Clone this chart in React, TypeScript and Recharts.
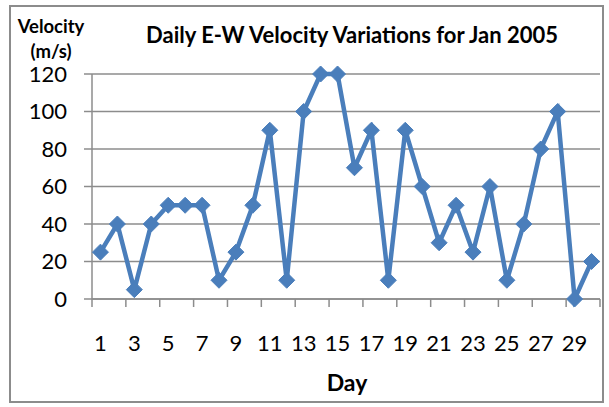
import React from "react";
import { LineChart, Line, XAxis, YAxis, CartesianGrid } from "recharts";

const days: number[] = [1,2,3,4,5,6,7,8,9,10,11,12,13,14,15,16,17,18,19,20,21,22,23,24,25,26,27,28,29,30];
const velocity: number[] = [25,40,5,40,50,50,50,10,25,50,90,10,100,120,120,70,90,10,90,60,30,50,25,60,10,40,80,100,0,20];
const yTicks: number[] = [0,20,40,60,80,100,120];

const data = days.map((d, i) => ({ day: d, v: velocity[i] }));

const FONT = "Lato, 'Open Sans', sans-serif";
const W = 609;
const H = 407;
const PLOT_LEFT = 92;
const PLOT_RIGHT = 600;
const PLOT_TOP = 74;
const PLOT_BOTTOM = 299;
const BAND = (PLOT_RIGHT - PLOT_LEFT) / days.length;
const GRID = "#8c8c8c";
const BLUE = "#4A7EBB";

const Diamond = (props: any) => {
  const { cx, cy } = props;
  if (cx == null || cy == null) return null;
  const r = 8;
  return (
    <polygon
      points={`${cx},${cy - r} ${cx + r},${cy} ${cx},${cy + r} ${cx - r},${cy}`}
      fill={BLUE}
      stroke={BLUE}
      strokeWidth={1}
    />
  );
};

const XTick = (props: any) => {
  const { x, payload } = props;
  const bx = x - BAND / 2;
  return (
    <g>
      <line x1={bx} y1={PLOT_BOTTOM} x2={bx} y2={PLOT_BOTTOM + 8} stroke={GRID} strokeWidth={1.5} />
      <text x={x} y={PLOT_BOTTOM + 46} textAnchor="middle" dominantBaseline="middle" fontFamily={FONT} fontSize={22} fill="#000">
        {payload.value}
      </text>
    </g>
  );
};

export default function App() {
  return (
    <div style={{ position: "absolute", left: 0, top: 0, width: W, height: H, background: "#fff" }}>
      <LineChart
        width={W}
        height={H}
        data={data}
        margin={{ top: PLOT_TOP, right: W - PLOT_RIGHT, bottom: 0, left: 0 }}
      >
        <rect x={10} y={6} width={593} height={396} fill="none" stroke={GRID} strokeWidth={2} />
        <CartesianGrid vertical={false} stroke={GRID} strokeWidth={1.5} strokeDasharray="" />
        <XAxis
          dataKey="day"
          type="category"
          interval={1}
          height={H - PLOT_BOTTOM}
          padding={{ left: BAND / 2, right: BAND / 2 }}
          axisLine={{ stroke: GRID, strokeWidth: 1.5 }}
          tickLine={false}
          tick={<XTick />}
        />
        <YAxis
          domain={[0, 120]}
          ticks={yTicks}
          width={PLOT_LEFT}
          axisLine={{ stroke: GRID, strokeWidth: 1.5 }}
          tickLine={{ stroke: GRID, strokeWidth: 1.5 }}
          tickSize={8}
          tickMargin={17}
          tick={{ fontFamily: FONT, fontSize: 22, fill: "#000" }}
        />
        <Line
          type="linear"
          dataKey="v"
          stroke={BLUE}
          strokeWidth={4.5}
          dot={<Diamond />}
          activeDot={false}
          isAnimationActive={false}
        />
        <line x1={PLOT_RIGHT} y1={PLOT_BOTTOM} x2={PLOT_RIGHT} y2={PLOT_BOTTOM + 8} stroke={GRID} strokeWidth={1.5} />
        <text x={352} y={37} textAnchor="middle" dominantBaseline="middle" fontFamily={FONT} fontWeight="bold" fontSize={22} fill="#000">
          Daily E-W Velocity Variations for Jan 2005
        </text>
        <text x={51} y={28} textAnchor="middle" dominantBaseline="middle" fontFamily={FONT} fontWeight="bold" fontSize={18.5} fill="#000">
          Velocity
        </text>
        <text x={51} y={53} textAnchor="middle" dominantBaseline="middle" fontFamily={FONT} fontWeight="bold" fontSize={18.5} fill="#000">
          (m/s)
        </text>
        <text x={347} y={385} textAnchor="middle" dominantBaseline="middle" fontFamily={FONT} fontWeight="bold" fontSize={23} fill="#000">
          Day
        </text>
      </LineChart>
    </div>
  );
}
